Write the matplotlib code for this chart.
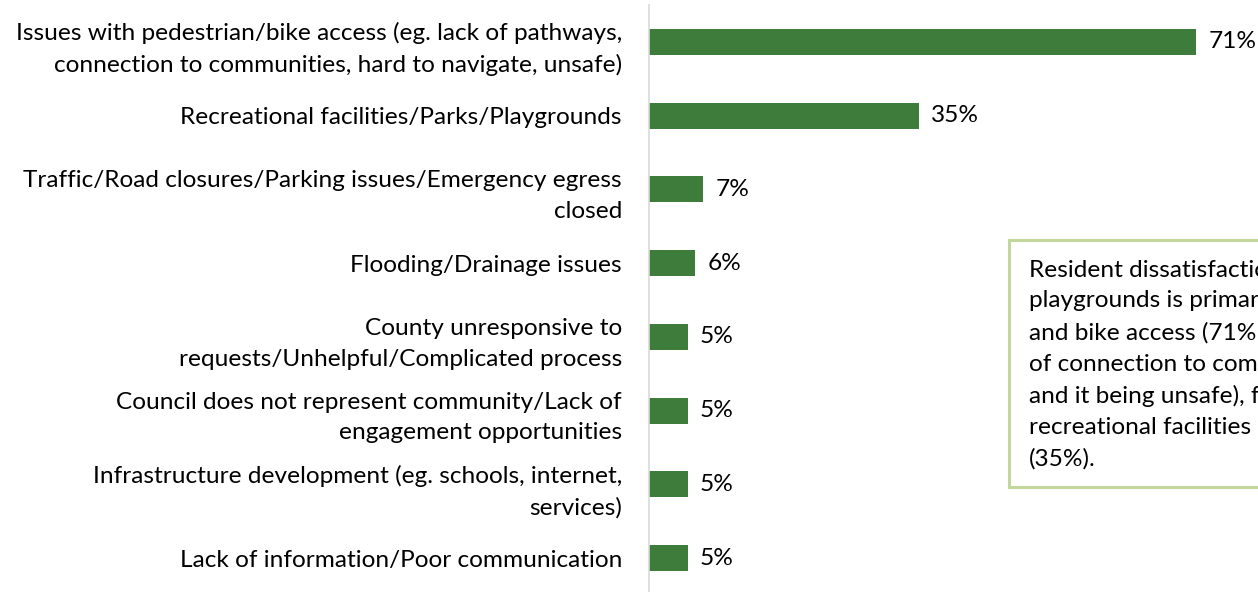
import matplotlib.pyplot as plt
from matplotlib.patches import Rectangle

# Chart data (top to bottom)
categories = [
    'Issues with pedestrian/bike access (eg. lack of pathways,\nconnection to communities, hard to navigate, unsafe)',
    'Recreational facilities/Parks/Playgrounds',
    'Traffic/Road closures/Parking issues/Emergency egress\nclosed',
    'Flooding/Drainage issues',
    'County unresponsive to\nrequests/Unhelpful/Complicated process',
    'Council does not represent community/Lack of\nengagement opportunities',
    'Infrastructure development (eg. schools, internet,\nservices)',
    'Lack of information/Poor communication',
]
values = [71, 35, 7, 6, 5, 5, 5, 5]
value_labels = [f'{v}%' for v in values]

callout_text = ('Resident dissatisfaction with parks and\n'
                'playgrounds is primarily related to pedestrian\n'
                'and bike access (71%; eg. lack of pathways, lack\n'
                'of connection to communities, hard to navigate\n'
                'and it being unsafe), followed by\n'
                'recreational facilities and parks\n'
                '(35%).')

plt.rcParams['font.family'] = ['Lato', 'DejaVu Sans']
FS = 17.6

W, H = 1258, 592
fig = plt.figure(figsize=(W / 100, H / 100), dpi=100)
ax = fig.add_axes([649 / W, -3 / H, 616 / W, 590 / H])

y = list(range(len(categories)))
bars = ax.barh(y, values, height=0.35, color='#3E7C3B')
ax.set_ylim(len(categories) - 0.5, -0.5)
ax.set_xlim(0, 80)

ax.set_yticks(y)
ax.set_yticklabels(categories, fontsize=FS, linespacing=1.58, color='black')
ax.tick_params(axis='y', length=0, pad=19.5)
ax.set_xticks([])
for side in ['top', 'right', 'bottom']:
    ax.spines[side].set_visible(False)
ax.spines['left'].set_color('#D9D9D9')
ax.spines['left'].set_linewidth(1.2)

ax.bar_label(bars, labels=value_labels, padding=9, fontsize=FS, color='black')

# Callout box on the right (runs off the edge like the original)
box = Rectangle((1009 / W, 1 - 487 / H), 320 / W, 247 / H, transform=fig.transFigure,
                facecolor='white', edgecolor='#C3D69B', linewidth=2.2, clip_on=False)
fig.patches.append(box)
# baseline alignment uses the last line here
fig.text(1029 / W, 1 - 466 / H, callout_text, fontsize=FS, linespacing=1.58,
         va='baseline', ha='left', color='black')

fig.savefig('out.png', dpi=100)
